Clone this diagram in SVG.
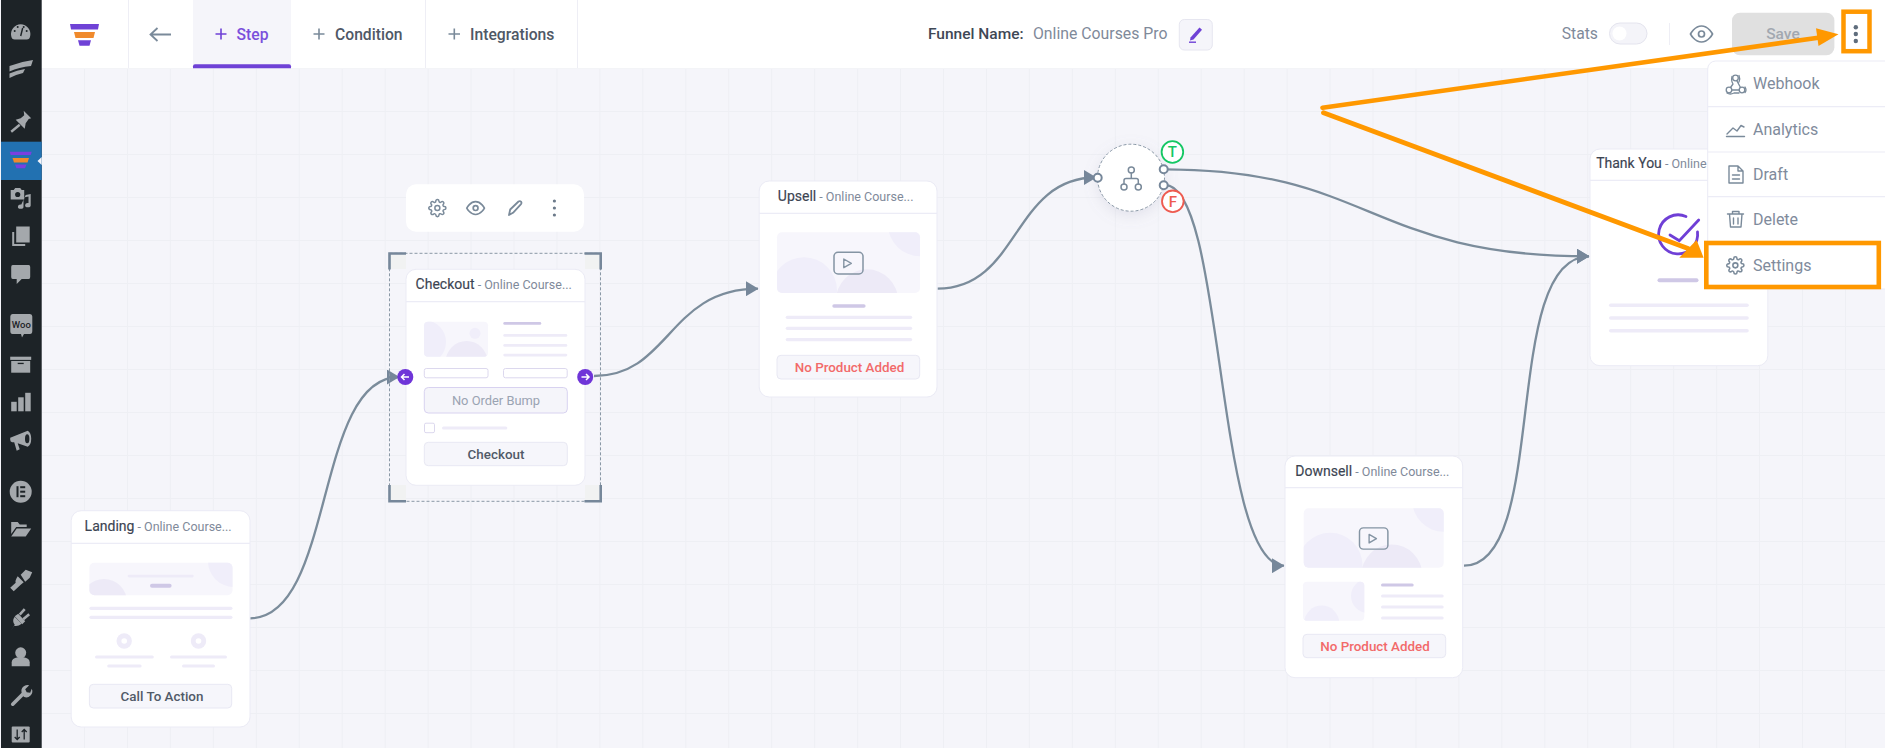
<svg xmlns="http://www.w3.org/2000/svg" xmlns:xlink="http://www.w3.org/1999/xlink" width="1885" height="748" viewBox="0 0 1885 748">
<style>
text{font-family:Roboto,"Liberation Sans",sans-serif}
.card{fill:#fff;stroke:#ebebf5;stroke-width:1}
.hl{stroke:#ececf6;stroke-width:1.2;fill:none}
.tt{font-size:14px;font-weight:400;fill:#3c4452;stroke:#3c4452;stroke-width:.15}
.st{font-size:12.5px;fill:#7f8a9a;stroke:none;font-weight:400}
.bar{fill:#eeebf8}
.pbar{fill:#cfc8e6}
.btn{fill:#f6f6fb;stroke:#e8e8f3;stroke-width:1}
.btxt{font-size:13.4px;font-weight:500;text-anchor:middle;fill:#515a68}
.red{fill:#f26a6a}
.tab{font-size:15.7px;font-weight:500;fill:#4f5866}
.plus{stroke:#7a8a9a;stroke-width:1.6;fill:none}
.ic{fill:none;stroke:#7a8a9a;stroke-width:1.8;stroke-linecap:round;stroke-linejoin:round}
.mi{font-size:16px;fill:#7f8b9c}
.sb{fill:#a4a8ac}
.sbd{fill:#1d2327}
.conn{fill:none;stroke:#7b8c9b;stroke-width:2.3}
.or{fill:none;stroke:#ff9800}
.orf{fill:#ff9800}
.port{fill:#fff;stroke:#76879a;stroke-width:2}
.sep{stroke:#eeeef5;stroke-width:1}
.brk{fill:none;stroke:#76879a;stroke-width:2.6}
.i1{fill:#f7f6fc}
.i2{fill:#f0eefa}
.i3{fill:#edeaf7}
</style>
<defs>
<pattern id="grid" patternUnits="userSpaceOnUse" x="84" y="111" width="42.95" height="43">
<path d="M0.5 0V43M0 0.5H43" stroke="#eeeff4" stroke-width="1" fill="none"/>
</pattern>
<marker id="arr" markerUnits="userSpaceOnUse" viewBox="0 0 12.5 15" refX="12" refY="7.5" markerWidth="12.5" markerHeight="15" orient="auto">
<path d="M0 0L12.5 7.5L0 15Z" fill="#76879a"/>
</marker>
<filter id="soft" x="-40%" y="-40%" width="180%" height="180%"><feDropShadow dx="0" dy="4" stdDeviation="7" flood-color="#8a8aa8" flood-opacity=".18"/></filter>
<clipPath id="cv"><rect width="143" height="60.7" rx="5"/></clipPath>
<clipPath id="cl"><rect x="89.4" y="562.7" width="143.1" height="32.6" rx="5"/></clipPath>
<clipPath id="cc"><rect x="424" y="321.7" width="64" height="35" rx="4"/></clipPath>
<clipPath id="cd"><rect x="1303" y="581.7" width="61.3" height="39" rx="4"/></clipPath>
<g id="video">
<rect class="i1" width="143" height="60.7" rx="5"/>
<g clip-path="url(#cv)"><circle class="i2" cx="143" cy="-8" r="32"/><circle class="i2" cx="27" cy="58" r="33"/><circle class="i3" cx="90" cy="68" r="31"/></g>
<rect x="57" y="20" width="29" height="21.7" rx="4" fill="none" stroke="#8494a3" stroke-width="1.5"/>
<path d="M66.8 26.7L74.3 31L66.8 35.4Z" fill="none" stroke="#8494a3" stroke-width="1.4" stroke-linejoin="round"/>
</g>
<path id="gear" d="M19.4 15a1.65 1.65 0 0 0 .33 1.82l.06.06a2 2 0 0 1 0 2.83 2 2 0 0 1-2.83 0l-.06-.06a1.65 1.65 0 0 0-1.82-.33 1.65 1.65 0 0 0-1 1.51V21a2 2 0 0 1-2 2 2 2 0 0 1-2-2v-.09A1.65 1.65 0 0 0 9 19.4a1.65 1.65 0 0 0-1.82.33l-.06.06a2 2 0 0 1-2.83 0 2 2 0 0 1 0-2.83l.06-.06a1.65 1.65 0 0 0 .33-1.82 1.65 1.65 0 0 0-1.51-1H3a2 2 0 0 1-2-2 2 2 0 0 1 2-2h.09A1.65 1.65 0 0 0 4.6 9a1.65 1.65 0 0 0-.33-1.82l-.06-.06a2 2 0 0 1 0-2.83 2 2 0 0 1 2.83 0l.06.06a1.65 1.65 0 0 0 1.82.33H9a1.65 1.65 0 0 0 1-1.51V3a2 2 0 0 1 2-2 2 2 0 0 1 2 2v.09a1.65 1.65 0 0 0 1 1.51 1.65 1.65 0 0 0 1.82-.33l.06-.06a2 2 0 0 1 2.83 0 2 2 0 0 1 0 2.83l-.06.06a1.65 1.65 0 0 0-.33 1.82V9a1.65 1.65 0 0 0 1.51 1H21a2 2 0 0 1 2 2 2 2 0 0 1-2 2h-.09a1.65 1.65 0 0 0-1.51 1z"/>
<g id="eye"><path d="M1 12s4-8 11-8 11 8 11 8-4 8-11 8-11-8-11-8z"/><circle cx="12" cy="12" r="3"/></g>
</defs>

<rect width="1885" height="748" fill="#f5f5fa"/>
<rect x="41" y="68" width="1844" height="680" fill="url(#grid)"/>

<g id="header">
<rect x="41.5" y="0" width="1844" height="68.3" fill="#fff"/>
<path class="sep" d="M128.5 0V68M425.5 0V68M577.5 0V68"/>
<path d="M70 24H99L98 29.5H71Z" fill="#6f42d6"/><path d="M74 32H95L93.5 38H75.5Z" fill="#f08a2c"/><path d="M78 40.2H91L89.5 45.7H79.5Z" fill="#6f42d6"/>
<path d="M171 34.5H150.5M157.5 28L150.5 34.5L157.5 41" fill="none" stroke="#7a8a9a" stroke-width="1.8"/>
<rect x="193" y="0" width="98" height="68.3" fill="#f5f5fa"/>
<path d="M193 68.3V66.3a2 2 0 0 1 2-2H289a2 2 0 0 1 2 2V68.3Z" fill="#6f42d6"/>
<path d="M221 28.5V39.5M215.5 34H226.5" stroke="#6f42d6" stroke-width="1.6" fill="none"/>
<text class="tab" x="236.5" y="39.5" style="fill:#7a50dc">Step</text>
<path class="plus" d="M319 28.5V39.5M313.5 34H324.5"/>
<text class="tab" x="335" y="39.5">Condition</text>
<path class="plus" d="M454.3 28.5V39.5M448.5 34H460"/>
<text class="tab" x="470" y="39.5">Integrations</text>
<text x="928" y="39" font-size="15.5" font-weight="500" fill="#3f4856">Funnel Name:</text>
<text x="1033" y="38.5" font-size="15.8" fill="#7f8a9a">Online Courses Pro</text>
<rect x="1179.3" y="19.5" width="33" height="30.5" rx="5" fill="#f5f5fa" stroke="#e6e6f0"/>
<path d="M1190.5 37.5L1199.5 27.5L1202 29.7L1193.5 39.5L1190 40.5Z" fill="#6f42d6"/><rect x="1189" y="41.5" width="7" height="1.4" fill="#6f42d6"/>
<text x="1561.7" y="39" font-size="15.7" fill="#7f8a9a">Stats</text>
<rect x="1609.5" y="23" width="37.5" height="21" rx="10.5" fill="#f4f4f9" stroke="#e4e4ee"/>
<circle cx="1619.5" cy="33.5" r="7" fill="#fff"/>
<path class="sep" d="M1669.5 23V45"/>
<use href="#eye" transform="translate(1689.5 22) scale(1)" style="fill:none;stroke:#7a8a9a;stroke-width:1.7"/>
<rect x="1732" y="12.7" width="102.4" height="42.6" rx="8" fill="#e0e0e0"/>
<text x="1783" y="39" font-size="15.5" font-weight="500" text-anchor="middle" fill="#a2a8b0">Save</text>
<circle cx="1855.8" cy="27.3" r="2.2" fill="#5f6d7d"/><circle cx="1855.8" cy="34" r="2.2" fill="#5f6d7d"/><circle cx="1855.8" cy="41" r="2.2" fill="#5f6d7d"/>
</g>

<g id="sidebar">
<rect x="1" y="0" width="40.7" height="748" fill="#1d2327"/>
<rect x="1" y="141.7" width="40.7" height="38.3" fill="#2271b1"/>
<path d="M41.7 157L37.5 161L41.7 165Z" fill="#f5f5fa"/>
<path d="M9.7 151.7H31.7L30.7 155H10.7Z" fill="#7a3fe0"/><path d="M12.5 158H29L27.5 162.5H14Z" fill="#f08a2c"/><path d="M15 164.6H26.5L25 168.3H16.5Z" fill="#7a3fe0"/>
<g transform="translate(20.7 32)"><path class="sb" d="M-9.5 4A9.7 9.7 0 1 1 9.5 4Q9 7.5 6 7.5H-6Q-9 7.5-9.5 4Z"/><circle class="sbd" cx="-6" cy="-1" r="1"/><circle class="sbd" cx="-3" cy="-5" r="1"/><circle class="sbd" cx="3" cy="-5" r="1"/><circle class="sbd" cx="6" cy="-1" r="1"/><path d="M0 4L2 -4" stroke="#1d2327" stroke-width="1.4"/></g>
<g transform="translate(21 69)"><path class="sb" d="M-11.5 -3Q0 -7.5 12 -9L10 -3Q-2 -2-11.5 2.5Z"/><path class="sb" d="M-11.5 4.5Q-4 1 4 0L2 4Q-5 5.5-11.5 9Z"/></g>
<g transform="translate(20.7 121.7)"><path class="sb" d="M3 -11L10.5 -3.5L8 -2.8L5 1.5L4 7L-5 -2L0 -3.5L3.5 -6.5Z"/><path d="M-1 3L-9.5 10" stroke="#a4a8ac" stroke-width="2.4"/></g>
<g transform="translate(20.7 198)"><path class="sb" d="M-10 -8H-7L-5.5 -10H-0.5L1 -8H3.5V1.5H-10Z"/><circle class="sbd" cx="-3" cy="-3.5" r="2.6"/><path class="sb" d="M5 -3L10 -4V7A2.8 2.2 0 1 1 7.8 5V-1.5L2.8 -.5V8.5A2.8 2.2 0 1 1 .6 6.5Z"/></g>
<g transform="translate(20.7 236)"><rect class="sb" x="-8.5" y="-4" width="13" height="14" /><rect class="sbd" x="-6.5" y="-7" width="14" height="15"/><rect class="sb" x="-4.5" y="-9.5" width="13.5" height="16"/></g>
<g transform="translate(20.7 274)"><path class="sb" d="M-8 -9H8Q9.5 -9 9.5 -7V3Q9.5 5 8 5H1L-4 10V5H-8Q-9.5 5-9.5 3V-7Q-9.5 -9-8 -9Z"/></g>
<g id="sb-woo"><path class="sb" d="M12.5 314H30Q32.3 314 32.3 316.5V331Q32.3 334 30 334H24L22 337.5L21 334H12.5Q10.3 334 10.3 331V316.5Q10.3 314 12.5 314Z"/><text x="21.3" y="328" font-size="9.5" font-weight="500" text-anchor="middle" fill="#1d2327">Woo</text></g>
<g transform="translate(20.7 365)"><rect class="sb" x="-10.5" y="-8.3" width="21" height="3.2"/><rect class="sb" x="-9.5" y="-4" width="19" height="11.7"/><rect class="sbd" x="-3" y="-2.2" width="6" height="1.3"/></g>
<g transform="translate(20.7 402.3)"><rect class="sb" x="-9.5" y="-.5" width="5.5" height="9.5"/><rect class="sb" x="-2.5" y="-5" width="5.5" height="14"/><rect class="sb" x="4.5" y="-9.5" width="5.5" height="18.5"/></g>
<g transform="translate(20.7 440.7)"><path class="sb" d="M-10.5 -3L7 -10Q10.5 -8 10.5 -2Q10.5 4 7 6L-3 2.5L-1 8.5L-4 10L-6.5 1.5H-8.5Q-10.5 1-10.5 -1Z"/><ellipse class="sbd" cx="6.5" cy="-2" rx="2.2" ry="4.5"/></g>
<g transform="translate(20.7 491.7)"><circle class="sb" r="11"/><rect class="sbd" x="-4.2" y="-5.5" width="2" height="11"/><rect class="sbd" x="-.5" y="-5.5" width="5" height="2"/><rect class="sbd" x="-.5" y="-1" width="5" height="2"/><rect class="sbd" x="-.5" y="3.5" width="5" height="2"/></g>
<g transform="translate(20.7 529)"><path class="sb" d="M-9.5 -7H-3L-1 -4.5H6V-2H-4.5L-9.5 5Z"/><path class="sb" d="M-4 -.5H10.5L5 7.5H-9.5Z"/></g>
<g transform="translate(20.7 580.7)"><path class="sb" d="M0 -6L5 -11L11.5 -8.5L9 -3L4.5 1Z"/><path class="sb" d="M-3 -4.5L3 1.5L0 4L-7 10.5L-10.5 7L-5 2Q-6 0-3 -4.5Z"/></g>
<g transform="translate(20.7 619.7)"><path class="sb" d="M-9.5 10.5L-6 5Q-9 1-6 -3L1 4Q-3 7-6.5 6Z"/><path class="sb" d="M-6 -3.5L-2.5 -6L4.5 1.5L1.5 4.5Z"/><path d="M-1 -5L4 -10.5M2.5 -.5L8.5 -5.5" stroke="#a4a8ac" stroke-width="2.6"/></g>
<g transform="translate(20.7 657.3)"><circle class="sb" cy="-4.5" r="5.5"/><path class="sb" d="M-9 9V5Q-9 1-3 0H3Q9 1 9 5V9Z"/></g>
<g transform="translate(20.7 695.7)"><path d="M-8 8.5L3 -2.5" stroke="#a4a8ac" stroke-width="3.6" stroke-linecap="round"/><path class="sb" d="M1 -3A6 6 0 0 1 8.5 -10.5L4.5 -6.5L6 -3.5L9.5 -3L11 -7A6 6 0 0 1 3 1Z"/></g>
<g transform="translate(20.7 734.5)"><rect class="sb" x="-9" y="-8" width="18" height="16" rx="1"/><path d="M-3.5 -5V5M-6 2.5L-3.5 5L-1 2.5M3.5 5V-5M1 -2.5L3.5 -5L6 -2.5" stroke="#1d2327" stroke-width="1.3" fill="none"/></g>
</g>

<g id="connectors">
<path class="conn" marker-end="url(#arr)" d="M250 618.3C335 618.3 314 377 399 377"/>
<path class="conn" marker-end="url(#arr)" d="M594 376C670 376 668 288.7 758 288.7"/>
<path class="conn" marker-end="url(#arr)" d="M937.5 288.7C1020 288.7 1012 177.5 1096 177.5"/>
<path class="conn" marker-end="url(#arr)" d="M1166 169.3C1370 169.3 1370 256.3 1589 256.3"/>
<path class="conn" marker-end="url(#arr)" d="M1165 185C1225 185 1215 565.7 1284 565.7"/>
<path class="conn" marker-end="url(#arr)" d="M1464 565.7C1550 565.7 1500 256.3 1589 256.3"/>
</g>

<g id="node-landing">
<rect class="card" x="71.2" y="510.7" width="178.8" height="216.3" rx="10"/>
<path class="hl" d="M71.2 543.3H250"/>
<text class="tt" x="84.6" y="530.5">Landing<tspan class="st"> - Online Course...</tspan></text>
<rect class="i1" x="89.4" y="562.7" width="143.1" height="32.6" rx="5"/>
<g clip-path="url(#cl)"><circle class="i2" cx="234" cy="561" r="26"/><circle class="i3" cx="104" cy="602" r="23"/></g>
<rect class="bar" x="127.7" y="574.7" width="66" height="2.8" rx="1.4"/>
<rect class="pbar" x="150" y="583.7" width="21.6" height="4" rx="2"/>
<rect class="bar" x="89.4" y="606.7" width="143.1" height="3.2" rx="1.6"/>
<rect class="bar" x="89.4" y="615.7" width="143.1" height="3.2" rx="1.6"/>
<circle class="bar" cx="124.2" cy="641" r="7.7"/><circle cx="124.2" cy="641" r="2.8" fill="#fff"/>
<circle class="bar" cx="198.5" cy="641" r="7.7"/><circle cx="198.5" cy="641" r="2.8" fill="#fff"/>
<rect class="bar" x="95" y="655.5" width="58.8" height="3" rx="1.5"/>
<rect class="bar" x="170" y="655.5" width="57" height="3" rx="1.5"/>
<rect class="bar" x="107.2" y="664.5" width="34.4" height="3" rx="1.5"/>
<rect class="bar" x="182" y="664.5" width="33" height="3" rx="1.5"/>
<rect class="btn" x="89.4" y="684.3" width="142.3" height="23.7" rx="4"/>
<text class="btxt" x="162" y="701.3">Call To Action</text>
</g>

<g id="node-checkout">
<rect x="389.5" y="253.3" width="211" height="248" fill="none" stroke="#8a98a6" stroke-width="1" stroke-dasharray="3 2"/>
<path d="M390 254H406V269H390ZM585 254H600V269H585ZM390 485H406V501H390ZM585 485H600V501H585Z" fill="#f1f2f2"/>
<path class="brk" d="M389.5 269.5V253.5H406M584.5 253.5H600.7V269.5M600.7 485V501.3H584.5M406 501.3H389.5V485"/>
<rect class="card" x="406" y="269.3" width="179" height="216" rx="10"/>
<path class="hl" d="M406 301.7H585"/>
<text class="tt" x="415.6" y="289">Checkout<tspan class="st"> - Online Course...</tspan></text>
<rect class="i1" x="424" y="321.7" width="64" height="35" rx="4"/>
<g clip-path="url(#cc)"><circle class="i2" cx="424" cy="342" r="22"/><circle class="i2" cx="475" cy="333.3" r="5.5"/><circle class="i3" cx="466.6" cy="362" r="21"/></g>
<rect class="pbar" x="503.3" y="322" width="38" height="2.8" rx="1.4"/>
<rect class="bar" x="503.3" y="334" width="64" height="2.8" rx="1.4"/>
<rect class="bar" x="503.3" y="344" width="64" height="2.8" rx="1.4"/>
<rect class="bar" x="503.3" y="353.7" width="64" height="2.8" rx="1.4"/>
<rect x="424.3" y="368.5" width="63.7" height="9.3" rx="2" fill="#fff" stroke="#dcd8ee"/>
<rect x="503.5" y="368.5" width="63.7" height="9.3" rx="2" fill="#fff" stroke="#dcd8ee"/>
<rect x="424.3" y="387.5" width="143" height="25.5" rx="4" fill="#f5f5fa" stroke="#d8d2f0"/>
<text x="496" y="405" font-size="12.9" text-anchor="middle" fill="#9aa3b2">No Order Bump</text>
<rect x="424.5" y="423.2" width="10" height="9.5" rx="1.5" fill="#fff" stroke="#dcd8ee"/>
<rect class="bar" x="442" y="426.5" width="65.3" height="3" rx="1.5"/>
<rect class="btn" x="424.3" y="442.3" width="143" height="23.4" rx="4"/>
<text class="btxt" x="496" y="458.7">Checkout</text>
<circle cx="405.3" cy="377" r="8" fill="#6f35d8"/><path d="M409 377H402M404.5 374L401.5 377L404.5 380" fill="none" stroke="#fff" stroke-width="1.5"/>
<circle cx="585.2" cy="377" r="8" fill="#6f35d8"/><path d="M581.5 377H588.5M586 374L589 377L586 380" fill="none" stroke="#fff" stroke-width="1.5"/>
</g>

<g id="node-toolbar">
<rect x="406" y="184.3" width="178" height="47.4" rx="10" fill="#fff"/>
<g class="ic" style="stroke-width:1.9" transform="translate(428 198.7) scale(.78)"><use href="#gear"/><circle cx="12" cy="12" r="3.2"/></g>
<use href="#eye" transform="translate(466 198.5) scale(.8)" style="fill:none;stroke:#7a8a9a;stroke-width:2.1"/>
<path class="ic" d="M509 215L510.2 209.5L518.5 201.5Q520 200.5 521.2 201.8Q522 203 521 204.2L513 212.8Z"/>
<circle cx="554.4" cy="201" r="1.6" fill="#6c7a8a"/><circle cx="554.4" cy="208" r="1.6" fill="#6c7a8a"/><circle cx="554.4" cy="215" r="1.6" fill="#6c7a8a"/>
</g>

<g id="node-upsell">
<rect class="card" x="759.2" y="181" width="177.8" height="216" rx="10"/>
<path class="hl" d="M759.2 213.3H937"/>
<text class="tt" x="777.8" y="201">Upsell<tspan class="st"> - Online Course...</tspan></text>
<use href="#video" x="777" y="232.3"/>
<rect class="pbar" x="832.3" y="304.3" width="33.3" height="3.4" rx="1.7"/>
<rect class="bar" x="785.7" y="315.7" width="126.5" height="3.2" rx="1.6"/>
<rect class="bar" x="785.7" y="326.7" width="126.5" height="3.2" rx="1.6"/>
<rect class="bar" x="785.7" y="338" width="126.5" height="3.2" rx="1.6"/>
<rect class="btn" x="777" y="355.3" width="142.7" height="23.7" rx="4"/>
<text class="btxt red" style="fill:#f26a6a" x="849.5" y="372" font-size="13.2">No Product Added</text>
</g>

<g id="node-condition">
<circle cx="1131" cy="177.7" r="33.5" fill="#fff" stroke="#8a98a6" stroke-width="1" stroke-dasharray="3 2" filter="url(#soft)"/>
<circle class="ic" style="stroke-width:1.5" cx="1131.3" cy="170" r="3"/><circle class="ic" style="stroke-width:1.5" cx="1124" cy="187" r="3"/><circle class="ic" style="stroke-width:1.5" cx="1138.3" cy="187" r="3"/>
<path class="ic" style="stroke-width:1.5" d="M1131.3 173V178.5M1124 184V180.5Q1124 178.5 1126 178.5H1136.3Q1138.3 178.5 1138.3 180.5V184"/>
<circle class="port" cx="1097.7" cy="177.7" r="4"/>
<circle class="port" cx="1163.7" cy="169.3" r="4"/>
<circle class="port" cx="1163.7" cy="185.3" r="4"/>
<circle cx="1172.4" cy="152" r="10.8" fill="#fff" stroke="#14c764" stroke-width="1.8"/>
<text x="1172.4" y="157.3" font-size="15" font-weight="500" text-anchor="middle" fill="#14c764">T</text>
<circle cx="1172.8" cy="201.3" r="10.8" fill="#fff" stroke="#ee5b50" stroke-width="1.8"/>
<text x="1172.8" y="206.6" font-size="15" font-weight="500" text-anchor="middle" fill="#ee5b50">F</text>
</g>

<g id="node-downsell">
<rect class="card" x="1285" y="456" width="177.7" height="221.7" rx="10"/>
<path class="hl" d="M1285 487.7H1462.7"/>
<text class="tt" x="1295.3" y="476">Downsell<tspan class="st"> - Online Course...</tspan></text>
<use href="#video" transform="translate(1303.7 508.3) scale(.979)"/>
<rect class="i1" x="1303" y="581.7" width="61.3" height="39" rx="4"/>
<g clip-path="url(#cd)"><circle class="i2" cx="1368" cy="596" r="17"/><circle class="i2" cx="1321.7" cy="623" r="17.5"/></g>
<rect class="pbar" x="1381" y="583.5" width="32.7" height="3" rx="1.5"/>
<rect class="bar" x="1381" y="594.5" width="62.7" height="3" rx="1.5"/>
<rect class="bar" x="1381" y="605.5" width="62.7" height="3" rx="1.5"/>
<rect class="bar" x="1381" y="616.5" width="62.7" height="3" rx="1.5"/>
<rect class="btn" x="1303" y="634.3" width="142.7" height="23.4" rx="4"/>
<text class="btxt red" style="fill:#f26a6a" x="1375" y="651" font-size="13.2">No Product Added</text>
</g>

<g id="node-thankyou">
<rect class="card" x="1590" y="149" width="177.8" height="216.7" rx="10"/>
<path class="hl" d="M1590 180.3H1767.8"/>
<text class="tt" x="1596.2" y="168.3">Thank You<tspan class="st"> - Online</tspan></text>
<path d="M1686 216.5A19.5 19.5 0 1 0 1697.5 232" fill="none" stroke="#6f3fd6" stroke-width="2.8" stroke-linecap="round"/>
<path d="M1670 235L1679.3 240.7L1698.7 220" fill="none" stroke="#6f3fd6" stroke-width="2.8" stroke-linecap="round"/>
<rect class="pbar" x="1657.5" y="278.3" width="41" height="4" rx="2"/>
<rect class="bar" x="1609" y="303.5" width="139.8" height="3.6" rx="1.8"/>
<rect class="bar" x="1609" y="316.2" width="139.8" height="3.6" rx="1.8"/>
<rect class="bar" x="1609" y="329" width="139.8" height="3.6" rx="1.8"/>
</g>

<g id="menu">
<path d="M1849.5 61.5L1855.8 55L1862 61.5Z" fill="#fff"/>
<rect x="1707.7" y="61" width="190" height="228" rx="8" fill="#fff" stroke="#ebebf5"/>
<path class="hl" d="M1708 106.7H1885M1708 152H1885M1708 196.7H1885"/>
<g class="ic" style="stroke-width:1.3"><circle cx="1735.5" cy="78" r="2.8"/><circle cx="1729" cy="90" r="2.8"/><circle cx="1742" cy="90" r="2.8"/><path d="M1736.8 80.6L1740.5 87.5M1732 90H1739M1732 76.5Q1731 81 1733 84L1730.5 87.5M1739 75.5Q1740.5 79 1739 82M1745 87Q1747 90 1745 92.5M1727 93Q1730 95 1734 93H1739"/></g>
<text class="mi" x="1753" y="89">Webhook</text>
<path class="ic" style="stroke-width:1.4" d="M1727 134L1733 128L1737 131L1741 125.5L1744 127M1726.5 136.5H1744.5"/>
<text class="mi" x="1753" y="135">Analytics</text>
<path class="ic" style="stroke-width:1.4" d="M1729 166H1738L1743 171V183H1729ZM1738 166V171H1743M1732.5 175H1739.5M1732.5 179H1739.5"/>
<text class="mi" x="1753" y="179.5">Draft</text>
<path class="ic" style="stroke-width:1.4" d="M1727.5 214H1743.5M1729.5 214L1730.5 227H1741L1742 214M1732.5 214V211.5H1739V214M1733.5 218V224M1738 218V224"/>
<text class="mi" x="1753" y="225">Delete</text>
<g class="ic" style="stroke-width:2" transform="translate(1726 256) scale(.78)"><use href="#gear"/><circle cx="12" cy="12" r="3.2"/></g>
<text class="mi" x="1753" y="271">Settings</text>
</g>

<g id="annotations">
<rect class="or" x="1843.5" y="11.7" width="26" height="39.5" stroke-width="4.5"/>
<rect class="or" x="1706.3" y="243" width="172.5" height="44" stroke-width="4.6"/>
<path class="or" d="M1322.5 107.7L1820 37.5" stroke-width="4.6" stroke-linecap="round"/>
<path class="orf" d="M1838.5 34.3L1816 28.3L1818.5 46Z"/>
<path class="or" d="M1323.5 112.7L1688 248.5" stroke-width="4.8" stroke-linecap="round"/>
<path class="orf" d="M1703.6 257.7L1679.3 257.7L1696.6 240Z"/>
</g>
</svg>
